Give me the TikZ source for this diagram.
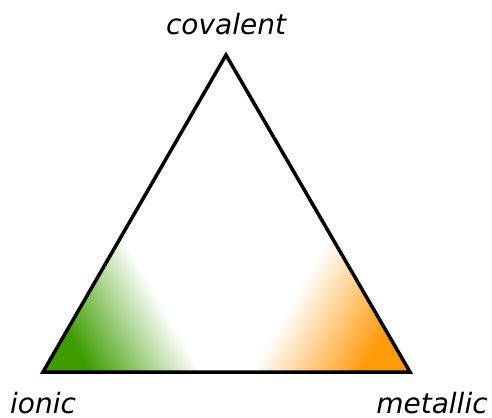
\documentclass[tikz,border=0pt]{standalone}
\usepackage{fontspec}
\setmainfont{DejaVu Sans}
\usetikzlibrary{positioning}
\definecolor{ionicgreen}{RGB}{62,156,0}
\definecolor{metalorange}{RGB}{255,154,10}
\begin{document}
\begin{tikzpicture}[x=1bp, y=1bp,
  lbl/.style={inner sep=0pt, font=\fontsize{28bp}{34bp}\selectfont\itshape},
  edge/.style={draw=black, line width=3.5bp}]
\useasboundingbox (0,0) rectangle (492,417);
\coordinate (cov) at (226,362);
\coordinate (ion) at (43,45);
\coordinate (met) at (410,45);
% corner colours, faded in thin stripes
\begin{scope}
  \clip (ion) -- (met) -- (cov) -- cycle;
  \begin{scope}[transform canvas={shift={(ion)}, rotate=30}]
    \fill[ionicgreen] (-100,-100) rectangle (40.5,100);
    \foreach \i [evaluate=\i as \p using 100-\i*100/48] in {0,...,47}
      \fill[ionicgreen!\p!white] (40+2*\i,-100) rectangle (42.6+2*\i,100);
  \end{scope}
  \begin{scope}[transform canvas={shift={(met)}, rotate=150}]
    \fill[metalorange] (-100,-100) rectangle (40.5,100);
    \foreach \i [evaluate=\i as \p using 100-\i*100/48] in {0,...,47}
      \fill[metalorange!\p!white] (40+2*\i,-100) rectangle (42.6+2*\i,100);
  \end{scope}
\end{scope}
\draw[edge] (ion) -- (met) -- (cov) -- cycle;
% labels
\node[lbl, above=20bp of cov] (covlbl) {covalent};
\node[lbl, below=20bp of ion] (ionlbl) {ionic};
\node[lbl, below=20bp of met, xshift=22bp] (metlbl) {metallic};
\end{tikzpicture}
\end{document}
